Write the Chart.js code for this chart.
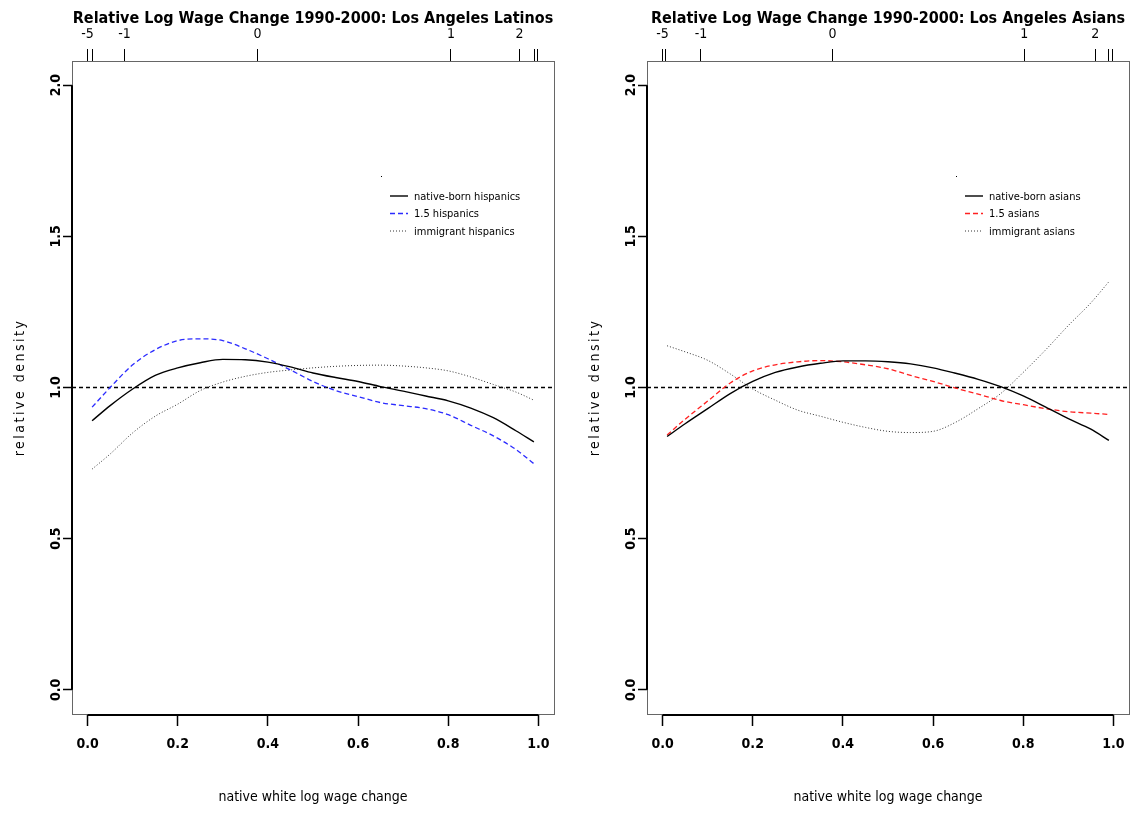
<!DOCTYPE html>
<html lang="en">
<head>
<meta charset="UTF-8">
<title>Relative Log Wage Change 1990-2000: Los Angeles</title>
<style>
  html, body { margin: 0; padding: 0; background: #fff; overflow: hidden; }
  canvas { position: absolute; top: 0; }
  #latinos { left: 0; }
  #asians { left: 575px; }
</style>
</head>
<body>
<canvas id="latinos" width="556" height="815"></canvas>
<canvas id="asians" width="556" height="815"></canvas>

<script src="https://cdn.jsdelivr.net/npm/chart.js"></script>
<script>
// relative density curves, sampled on a common grid of native white log wage change
const xGrid = [0.01, 0.05, 0.10, 0.15, 0.20, 0.25, 0.30, 0.35, 0.40, 0.45, 0.50,
               0.55, 0.60, 0.65, 0.70, 0.75, 0.80, 0.85, 0.90, 0.95, 0.99];

const latNative    = [0.89, 0.94, 0.995, 1.04, 1.065, 1.082, 1.093, 1.092, 1.084, 1.068, 1.048,
                      1.033, 1.02, 1.003, 0.988, 0.972, 0.956, 0.932, 0.90, 0.857, 0.82];
const latOneFive   = [0.935, 1.0, 1.075, 1.125, 1.155, 1.161, 1.155, 1.128, 1.095, 1.058, 1.02,
                      0.99, 0.97, 0.95, 0.94, 0.93, 0.91, 0.875, 0.84, 0.795, 0.748];
const latImmigrant = [0.73, 0.78, 0.85, 0.905, 0.945, 0.99, 1.018, 1.037, 1.05, 1.058, 1.065,
                      1.07, 1.073, 1.074, 1.071, 1.065, 1.055, 1.035, 1.01, 0.985, 0.958];

const asNative     = [0.838, 0.88, 0.93, 0.98, 1.02, 1.05, 1.068, 1.08, 1.088, 1.088, 1.085,
                      1.078, 1.065, 1.047, 1.027, 1.003, 0.972, 0.935, 0.897, 0.862, 0.825];
const asOneFive    = [0.843, 0.895, 0.955, 1.015, 1.055, 1.075, 1.085, 1.089, 1.085, 1.075, 1.062,
                      1.04, 1.02, 0.998, 0.978, 0.957, 0.943, 0.93, 0.92, 0.915, 0.911];
const asImmigrant  = [1.138, 1.118, 1.09, 1.045, 0.995, 0.958, 0.925, 0.905, 0.885, 0.868, 0.855,
                      0.851, 0.855, 0.885, 0.93, 0.98, 1.05, 1.125, 1.205, 1.28, 1.35];

// axis ticks
const xTicks = [0, 0.2, 0.4, 0.6, 0.8, 1.0];
const yTicks = [0, 0.5, 1.0, 1.5, 2.0];
// top axis: log wage change values placed at their quantile positions
const latTopPos    = [0, 0.011, 0.082, 0.377, 0.806, 0.958, 0.991, 0.998];
const latTopLabels = ['-5', '', '-1', '0', '1', '2', '', ''];
const asTopPos     = [0, 0.007, 0.085, 0.377, 0.802, 0.960, 0.990, 0.997];
const asTopLabels  = ['-5', '', '-1', '0', '1', '2', '', ''];

const X_MIN = -0.0346, X_MAX = 1.0346;
const Y_MIN = -0.08, Y_MAX = 2.08;
const REF_LEVEL = 1;

const FONT = "'Liberation Sans Narrow', 'DejaVu Sans Condensed', 'Arial Narrow', sans-serif";
Chart.defaults.font.family = FONT;
Chart.defaults.color = '#000';

const toPoints = vals => xGrid.map((x, i) => ({ x: x, y: vals[i] }));

// keep the plot box fixed: no extra room for overhanging tick labels
const noOverhang = s => { s.paddingLeft = 0; s.paddingRight = 0; s.paddingTop = 0; s.paddingBottom = 0; };

// box, R-style axis lines, legend and y title
const rFrame = {
  id: 'rFrame',
  afterDraw(chart, args, opts) {
    const { ctx, chartArea: a, scales } = chart;
    ctx.save();
    ctx.strokeStyle = '#666';
    ctx.lineWidth = 1;
    ctx.strokeRect(a.left + 0.5, a.top + 0.5, a.right - a.left, a.bottom - a.top);

    ctx.strokeStyle = '#000';
    ctx.lineWidth = 2;
    ctx.beginPath();
    ctx.moveTo(scales.x.getPixelForValue(xTicks[0]), a.bottom + 1);
    ctx.lineTo(scales.x.getPixelForValue(xTicks[xTicks.length - 1]), a.bottom + 1);
    ctx.moveTo(a.left, scales.y.getPixelForValue(yTicks[0]));
    ctx.lineTo(a.left, scales.y.getPixelForValue(yTicks[yTicks.length - 1]));
    ctx.stroke();

    // legend
    ctx.fillStyle = '#000';
    ctx.fillRect(381, 176, 1, 1);
    ctx.font = '11px ' + FONT;
    ctx.textBaseline = 'middle';
    ctx.textAlign = 'left';
    chart.data.datasets.slice(0, 3).forEach((ds, i) => {
      const y = 196 + i * 17.5;
      ctx.strokeStyle = ds.borderColor;
      ctx.lineWidth = ds.borderWidth;
      ctx.setLineDash(ds.borderDash || []);
      ctx.beginPath();
      ctx.moveTo(390, y);
      ctx.lineTo(408, y);
      ctx.stroke();
      ctx.setLineDash([]);
      ctx.fillText(ds.label, 414, y + 1);
    });

    // y axis title, letter spaced
    ctx.translate(20, (a.top + a.bottom) / 2);
    ctx.rotate(-Math.PI / 2);
    ctx.font = '14px ' + FONT;
    ctx.letterSpacing = '2.5px';
    ctx.textAlign = 'center';
    ctx.fillText(opts.yTitle, 0, 0);
    ctx.restore();
  }
};

function makePanel(id, title, series, names, midColor, topPos, topLabels) {
  return new Chart(document.getElementById(id), {
    type: 'line',
    data: {
      datasets: [
        { label: names[0], data: toPoints(series[0]), borderColor: '#000', borderWidth: 1.4 },
        { label: names[1], data: toPoints(series[1]), borderColor: midColor, borderWidth: 1.3, borderDash: [5, 3] },
        { label: names[2], data: toPoints(series[2]), borderColor: '#333', borderWidth: 1, borderDash: [1, 2] },
        { label: 'ref', data: [{ x: X_MIN, y: REF_LEVEL }, { x: X_MAX, y: REF_LEVEL }],
          borderColor: '#000', borderWidth: 1.6, borderDash: [4, 3] }
      ]
    },
    options: {
      responsive: false,
      devicePixelRatio: 1,
      animation: false,
      layout: { padding: { left: 0, right: 2, top: 0, bottom: 0 } },
      elements: {
        point: { radius: 0 },
        line: { cubicInterpolationMode: 'monotone', fill: false }
      },
      plugins: {
        legend: { display: false },
        tooltip: { enabled: false },
        title: {
          display: true, text: title, fullSize: false, color: '#000',
          font: { size: 16, weight: 'bold' }, padding: { top: 9, bottom: 0 }
        },
        rFrame: { yTitle: 'relative density' }
      },
      scales: {
        x: {
          type: 'linear', position: 'bottom', min: X_MIN, max: X_MAX,
          afterBuildTicks: s => { s.ticks = xTicks.map(v => ({ value: v })); },
          afterFit: s => { s.height = 101; noOverhang(s); },
          ticks: { callback: v => v.toFixed(1), font: { size: 14, weight: 'bold' },
                   padding: 10, maxRotation: 0, autoSkip: false },
          grid: { drawOnChartArea: false, tickLength: 12, tickWidth: 1.5, tickColor: '#000' },
          border: { display: false },
          title: { display: true, text: 'native white log wage change', font: { size: 14 },
                   padding: { top: 0, bottom: 9 } }
        },
        x2: {
          type: 'linear', position: 'top', min: X_MIN, max: X_MAX,
          afterBuildTicks: s => { s.ticks = topPos.map(v => ({ value: v })); },
          afterFit: s => { s.height = 32.8; noOverhang(s); },
          ticks: { callback: (v, i) => topLabels[i], font: { size: 14 },
                   padding: 6, maxRotation: 0, autoSkip: false },
          grid: { drawOnChartArea: false, tickLength: 12, tickWidth: 1, tickColor: '#000' },
          border: { display: false }
        },
        y: {
          type: 'linear', min: Y_MIN, max: Y_MAX,
          afterBuildTicks: s => { s.ticks = yTicks.map(v => ({ value: v })); },
          afterFit: s => { s.width = 72; noOverhang(s); },
          ticks: { callback: v => v.toFixed(1), font: { size: 14, weight: 'bold' },
                   minRotation: 90, maxRotation: 90, crossAlign: 'center', padding: -5 },
          grid: { drawOnChartArea: false, tickLength: 9, tickWidth: 1.5, tickColor: '#000' },
          border: { display: false }
        }
      }
    },
    plugins: [rFrame]
  });
}

makePanel('latinos', 'Relative Log Wage Change 1990-2000: Los Angeles Latinos',
  [latNative, latOneFive, latImmigrant],
  ['native-born hispanics', '1.5 hispanics', 'immigrant hispanics'],
  '#2b2bff', latTopPos, latTopLabels);

makePanel('asians', 'Relative Log Wage Change 1990-2000: Los Angeles Asians',
  [asNative, asOneFive, asImmigrant],
  ['native-born asians', '1.5 asians', 'immigrant asians'],
  '#ff2020', asTopPos, asTopLabels);
</script>
</body>
</html>
